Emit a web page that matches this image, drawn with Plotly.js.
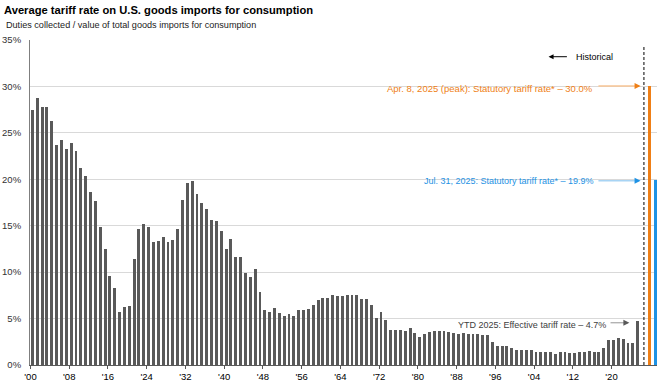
<!DOCTYPE html>
<html>
<head>
<meta charset="utf-8">
<script src="https://cdn.plot.ly/plotly-3.0.1.min.js"></script>
<style>
  html, body { margin: 0; padding: 0; background: #fff; }
  #chart { width: 668px; height: 386px; }
</style>
</head>
<body>
<div id="chart"></div>
<script>
// ---- Data ----
const years = [];
for (let y = 1900; y <= 2025; y++) years.push(y);

const tariffRates = [
  27.5, 28.8, 27.8, 27.8, 26.3, 23.7, 24.2, 23.3, 23.9, 23.0, // 1900-1909
  21.2, 20.4, 18.6, 17.7, 14.9, 12.5, 9.6, 8.3, 5.7, 6.2,     // 1910-1919
  6.4, 11.4, 14.7, 15.2, 14.9, 13.2, 13.4, 13.8, 13.2, 13.5,  // 1920-1929
  14.7, 17.8, 19.6, 19.8, 18.4, 17.5, 16.8, 15.6, 15.5, 14.4, // 1930-1939
  12.5, 13.6, 11.6, 11.6, 9.9, 9.5, 10.3, 7.9, 5.9, 5.7,      // 1940-1949
  6.1, 5.6, 5.3, 5.5, 5.3, 5.9, 5.9, 6.0, 6.5, 7.0,           // 1950-1959
  7.2, 7.2, 7.5, 7.4, 7.4, 7.5, 7.5, 7.5, 7.1, 7.1,           // 1960-1969
  6.5, 5.1, 5.7, 4.9, 3.8, 3.8, 3.8, 3.7, 4.0, 3.4,           // 1970-1979
  3.0, 3.3, 3.6, 3.7, 3.7, 3.7, 3.6, 3.4, 3.3, 3.4,           // 1980-1989
  3.3, 3.3, 3.3, 3.2, 3.2, 2.5, 2.1, 2.0, 2.0, 1.8,           // 1990-1999
  1.6, 1.6, 1.6, 1.6, 1.4, 1.4, 1.4, 1.4, 1.2, 1.4,           // 2000-2009
  1.4, 1.3, 1.3, 1.4, 1.4, 1.5, 1.4, 1.4, 1.8, 2.7,           // 2010-2019
  2.7, 2.9, 2.8, 2.4, 2.4, 4.7                                // 2020-2025
];

const statutoryLabels = ['Apr. 8, 2025 (peak)', 'Jul. 31, 2025'];
const statutoryValues = [30.0, 19.9];
const effectiveYTD = 4.7;

const tickYears = [1900, 1908, 1916, 1924, 1932, 1940, 1948, 1956, 1964, 1972, 1980, 1988, 1996, 2004, 2012, 2020];
const tickLabels = tickYears.map(y => "'" + String(y % 100).padStart(2, '0'));

// ---- Styling / layout helpers ----
const lastYear = years[years.length - 1];
const FONT = 'Liberation Sans, Arial, sans-serif';
const ORANGE = '#EF7F16', ORANGE_LIGHT = '#F7C595';
const BLUE = '#1E92E4', BLUE_LIGHT = '#A8D4F4';
const dashX = lastYear + 1.3;
const statX = [lastYear + 2.5, lastYear + 3.65];
const textEndX = lastYear - 8.9;
const lineStartX = lastYear - 8.1;
const headX = lastYear + 0.6;

const traces = [
  {
    type: 'bar', x: years, y: tariffRates, width: 0.6,
    marker: { color: '#595959' }, hoverinfo: 'x+y', showlegend: false
  },
  {
    type: 'bar', x: [statX[0]], y: [statutoryValues[0]], width: 0.62,
    marker: { color: ORANGE }, showlegend: false
  },
  {
    type: 'bar', x: [statX[1]], y: [statutoryValues[1]], width: 0.62,
    marker: { color: BLUE }, showlegend: false
  }
];

function arrowHead(xHead, y, color) {
  return {
    x: xHead, y: y, ax: xHead - 1.3, ay: y, axref: 'x', ayref: 'y',
    xref: 'x', yref: 'y', text: '', showarrow: true,
    arrowhead: 2, arrowsize: 1, arrowwidth: 1.2, arrowcolor: color
  };
}

const annFont = (color, size) => ({ family: FONT, size: size || 9, color: color });

const layout = {
  width: 668, height: 386,
  margin: { l: 30, r: 11, t: 40, b: 21, pad: 0 },
  paper_bgcolor: '#fff', plot_bgcolor: '#fff',
  bargap: 0, barmode: 'overlay',
  title: {
    text: '<b>Average tariff rate on U.S. goods imports for consumption</b>',
    xref: 'container', yref: 'container', x: 4 / 668, xanchor: 'left',
    y: 1 - 10 / 386, yanchor: 'middle',
    font: { family: FONT, size: 11.2, color: '#000' }
  },
  xaxis: {
    range: [1899.5, 2029.0],
    tickmode: 'array',
    tickvals: tickYears.map(y => y - 0.4),
    ticktext: tickLabels,
    ticks: 'outside', ticklen: 3, tickcolor: '#595959', tickwidth: 1,
    showline: true, linecolor: '#595959', linewidth: 1,
    showgrid: false, zeroline: false,
    tickfont: { family: FONT, size: 9.5, color: '#000' }
  },
  yaxis: {
    range: [0, 35], dtick: 5, tick0: 0, ticksuffix: '%',
    showgrid: true, gridcolor: '#D9D9D9', gridwidth: 1,
    showline: true, linecolor: '#7F7F7F', linewidth: 1,
    zeroline: false, ticks: '', ticklabelstandoff: 6,
    tickfont: { family: FONT, size: 9.5, color: '#333' }
  },
  shapes: [
    { type: 'line', xref: 'x', yref: 'y', x0: dashX, x1: dashX, y0: 0, y1: 34.4,
      line: { color: '#000', width: 1, dash: '3px,2px' } },
    { type: 'line', xref: 'x', yref: 'y', x0: lineStartX, x1: headX - 0.6, y0: statutoryValues[0] + 0.05, y1: statutoryValues[0] + 0.05,
      line: { color: ORANGE_LIGHT, width: 1.5 } },
    { type: 'line', xref: 'x', yref: 'y', x0: lineStartX, x1: headX - 0.6, y0: statutoryValues[1] - 0.05, y1: statutoryValues[1] - 0.05,
      line: { color: BLUE_LIGHT, width: 1.5 } },
    { type: 'line', xref: 'x', yref: 'y', x0: lastYear - 5.6, x1: lastYear - 2.6, y0: effectiveYTD - 0.15, y1: effectiveYTD - 0.15,
      line: { color: '#A6A6A6', width: 1.2 } }
  ],
  annotations: [
    {
      xref: 'paper', yref: 'paper', x: -26 / 627, y: 1 + 15 / 325,
      xanchor: 'left', yanchor: 'middle', showarrow: false,
      text: 'Duties collected / value of total goods imports for consumption',
      font: { family: FONT, size: 9.1, color: '#222' }
    },
    {
      xref: 'x', yref: 'y', x: lastYear - 13.05, y: 33.2,
      xanchor: 'left', yanchor: 'middle', showarrow: false,
      text: 'Historical', font: annFont('#000')
    },
    {
      x: lastYear - 18.4, y: 33.2, ax: lastYear - 14.3, ay: 33.2, axref: 'x', ayref: 'y',
      xref: 'x', yref: 'y', text: '', showarrow: true,
      arrowhead: 2, arrowsize: 1, arrowwidth: 1, arrowcolor: '#000'
    },
    {
      xref: 'x', yref: 'y', x: textEndX, y: statutoryValues[0] - 0.2,
      xanchor: 'right', yanchor: 'middle', showarrow: false,
      text: statutoryLabels[0] + ': Statutory tariff rate* \u2013 ' + statutoryValues[0].toFixed(1) + '%',
      font: annFont(ORANGE, 9.5)
    },
    arrowHead(headX, statutoryValues[0] + 0.05, ORANGE),
    {
      xref: 'x', yref: 'y', x: textEndX, y: statutoryValues[1] - 0.1,
      xanchor: 'right', yanchor: 'middle', showarrow: false,
      text: statutoryLabels[1] + ': Statutory tariff rate* \u2013 ' + statutoryValues[1].toFixed(1) + '%',
      font: annFont(BLUE, 9)
    },
    arrowHead(headX, statutoryValues[1] - 0.05, BLUE),
    {
      xref: 'x', yref: 'y', x: lastYear - 6.1, y: effectiveYTD - 0.35,
      xanchor: 'right', yanchor: 'middle', showarrow: false,
      text: 'YTD 2025: Effective tariff rate \u2013 ' + effectiveYTD.toFixed(1) + '%',
      font: annFont('#404040', 9)
    },
    {
      x: lastYear - 1.7, y: effectiveYTD - 0.15, ax: lastYear - 3.0, ay: effectiveYTD - 0.15, axref: 'x', ayref: 'y',
      xref: 'x', yref: 'y', text: '', showarrow: true,
      arrowhead: 2, arrowsize: 1, arrowwidth: 1.2, arrowcolor: '#595959'
    }
  ]
};

Plotly.newPlot('chart', traces, layout, { displayModeBar: false, staticPlot: true });
</script>
</body>
</html>
